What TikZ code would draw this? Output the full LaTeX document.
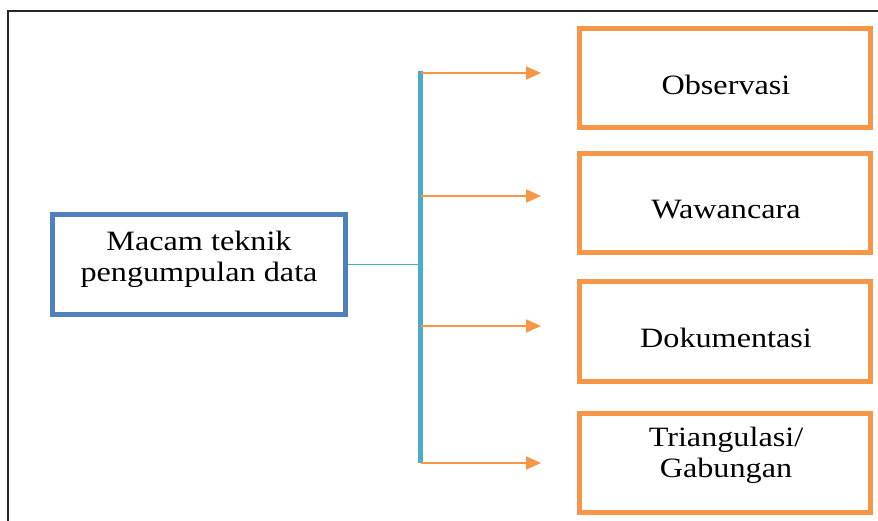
\documentclass[tikz,border=0pt]{standalone}
\usepackage{fontspec}
\setmainfont{Liberation Serif}[FakeStretch=1.15]
\usetikzlibrary{arrows.meta}
\definecolor{boxorange}{HTML}{F79646}
\definecolor{boxblue}{HTML}{4F81BD}
\definecolor{barteal}{HTML}{4BACC6}
\tikzset{
  itembox/.style={draw=boxorange, line width=5pt, minimum width=291pt, minimum height=99pt, inner sep=0pt},
  mainbox/.style={draw=boxblue, line width=5pt, minimum width=293pt, minimum height=100pt, inner sep=0pt},
  boxtext/.style={font=\fontsize{28pt}{31pt}\selectfont, align=center, inner sep=0pt},
  branch/.style={draw=boxorange, line width=1.8pt, -{Triangle[length=15pt,width=13pt]}},
}
\begin{document}
\begin{tikzpicture}[x=1pt,y=-1pt]
  \useasboundingbox (0,0) rectangle (878,521);
  % outer frame (only top and left edges fall inside the page)
  \draw[line width=2pt, black!85] (8,530) -- (8,11) -- (890,11);

  % source box
  \node[mainbox] (src) at (199,264.5) {};
  \node[boxtext] at (199,259) {Macam teknik\\pengumpulan data};

  % target boxes
  \node[itembox] (t1) at (725,78.5) {};
  \node[itembox] (t2) at (725,203.5) {};
  \node[itembox] (t3) at (725,331.5) {};
  \node[itembox] (t4) at (725,462.5) {};
  \node[boxtext] at (726,84.5) {Observasi};
  \node[boxtext] at (726,209.5) {Wawancara};
  \node[boxtext] at (726,337.5) {Dokumentasi};
  \node[boxtext] at (726,455) {Triangulasi/\\Gabungan};

  % distribution bar
  \coordinate (bartop) at (420.5,71);
  \coordinate (barbot) at (420.5,463);
  \draw[barteal, line width=5pt] (bartop) -- (barbot);
  \draw[barteal, line width=1.2pt] (src.east) -- (src.east -| bartop);

  % branches towards the targets
  \coordinate (a1) at (541,73);
  \coordinate (a2) at (541,196);
  \coordinate (a3) at (541,326);
  \coordinate (a4) at (541,463);
  \foreach \i in {1,...,4}
    \draw[branch] (a\i -| bartop) -- (a\i);
\end{tikzpicture}
\end{document}
